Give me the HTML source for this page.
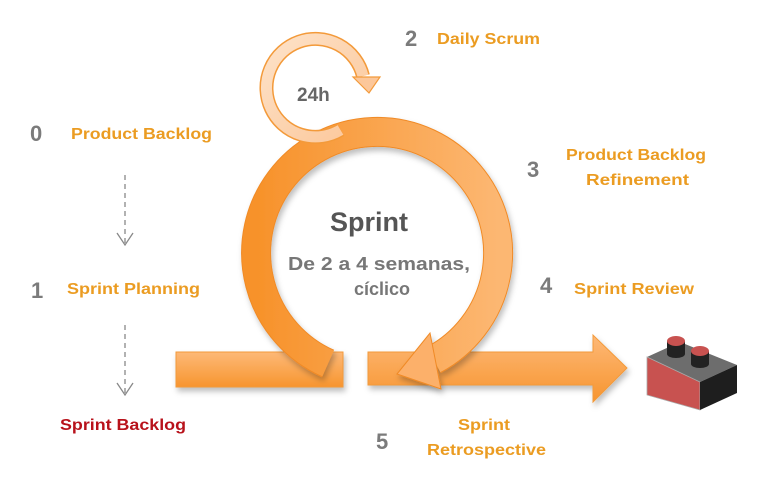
<!DOCTYPE html>
<html><head><meta charset="utf-8"><style>
html,body{margin:0;padding:0;background:#fff;}
svg{display:block;font-family:"Liberation Sans",sans-serif;font-weight:bold;}
</style></head><body>
<svg width="768" height="494" viewBox="0 0 768 494" xmlns="http://www.w3.org/2000/svg">
<defs>
<linearGradient id="g1" x1="0" y1="0" x2="1" y2="0">
<stop offset="0" stop-color="#f7922a"/><stop offset="1" stop-color="#fcb772"/>
</linearGradient>
<linearGradient id="gb" x1="0" y1="0" x2="0" y2="1">
<stop offset="0" stop-color="#fdb877"/><stop offset="1" stop-color="#f7952f"/>
</linearGradient>
<linearGradient id="gs" x1="0" y1="0" x2="1" y2="1">
<stop offset="0" stop-color="#fde2c8"/><stop offset="1" stop-color="#fcc79a"/>
</linearGradient>
<filter id="sh" x="-10%" y="-10%" width="130%" height="140%"><feDropShadow dx="2" dy="4" stdDeviation="3" flood-color="#000" flood-opacity="0.25"/></filter>
</defs>

<rect x="176" y="352" width="167" height="35" fill="url(#gb)" stroke="#f39a3a" stroke-width="1" filter="url(#sh)"/>
<path d="M368 352 L593 352 L593 335 L627 368 L593 402 L593 385 L368 385 Z" fill="url(#gb)" stroke="#f39a3a" stroke-width="1" filter="url(#sh)"/>

<g filter="url(#sh)">
<path d="M328 363.5 A121 121 0 1 1 433.8 359.8" fill="none" stroke="#f08a25" stroke-width="30"/>
<path d="M328 363.5 A121 121 0 1 1 433.8 359.8" fill="none" stroke="url(#g1)" stroke-width="28"/>
<path d="M397 374 L430 333 L441 389 Z" fill="#fcb06a" stroke="#f08a25" stroke-width="1"/>
</g>

<path d="M340.5 130 A49 49 0 1 1 363 76" fill="none" stroke="#f39a3a" stroke-width="14"/>
<path d="M340.5 130 A49 49 0 1 1 363 76" fill="none" stroke="url(#gs)" stroke-width="11"/>
<path d="M353 77 L380 77 L369 93 Z" fill="#fcc79a" stroke="#f39a3a" stroke-width="1.2"/>

<polygon points="647,357 680,342 737,365 700,382" fill="#6d6d6d"/>
<polygon points="647,357 700,382 700,410 647,395" fill="#c85250" stroke="#aaa" stroke-width="0.8"/>
<polygon points="700,382 737,365 737,393 700,410" fill="#1e1e1e"/>
<rect x="667" y="341" width="18" height="13" fill="#222"/>
<ellipse cx="676" cy="354" rx="9" ry="4" fill="#222"/>
<ellipse cx="676" cy="341" rx="9" ry="5" fill="#c85250"/>
<rect x="691" y="351" width="18" height="13" fill="#222"/>
<ellipse cx="700" cy="364" rx="9" ry="4" fill="#222"/>
<ellipse cx="700" cy="351" rx="9" ry="5" fill="#c85250"/>

<g stroke="#888" stroke-width="1.3" fill="none">
<line x1="125" y1="175" x2="125" y2="244" stroke-dasharray="5,4"/>
<polyline points="117,233 125,245 133,233"/>
<line x1="125" y1="325" x2="125" y2="394" stroke-dasharray="5,4"/>
<polyline points="117,383 125,395 133,383"/>
</g>

<g fill="#7b7b7b" font-size="22">
<text x="30" y="141">0</text>
<text x="31" y="298">1</text>
<text x="405" y="46">2</text>
<text x="527" y="177">3</text>
<text x="540" y="293">4</text>
<text x="376" y="449">5</text>
</g>

<g fill="#eb9c22" font-size="16">
<text x="71" y="139" textLength="141" lengthAdjust="spacingAndGlyphs">Product Backlog</text>
<text x="67" y="294" textLength="133" lengthAdjust="spacingAndGlyphs">Sprint Planning</text>
<text x="437" y="44" textLength="103" lengthAdjust="spacingAndGlyphs">Daily Scrum</text>
<text x="566" y="160" textLength="140" lengthAdjust="spacingAndGlyphs">Product Backlog</text>
<text x="586" y="185" textLength="103" lengthAdjust="spacingAndGlyphs">Refinement</text>
<text x="574" y="294" textLength="120" lengthAdjust="spacingAndGlyphs">Sprint Review</text>
<text x="458" y="430" textLength="52" lengthAdjust="spacingAndGlyphs">Sprint</text>
<text x="427" y="455" textLength="119" lengthAdjust="spacingAndGlyphs">Retrospective</text>
</g>
<text x="60" y="430" fill="#b8121b" font-size="16" textLength="126" lengthAdjust="spacingAndGlyphs">Sprint Backlog</text>

<text x="297" y="101" fill="#666" font-size="19">24h</text>
<text x="369" y="231" fill="#555" font-size="27" text-anchor="middle">Sprint</text>
<text x="379" y="270" fill="#777" font-size="18" text-anchor="middle" textLength="182" lengthAdjust="spacingAndGlyphs">De 2 a 4 semanas,</text>
<text x="382" y="295" fill="#777" font-size="18" text-anchor="middle">cíclico</text>
</svg>
</body></html>
